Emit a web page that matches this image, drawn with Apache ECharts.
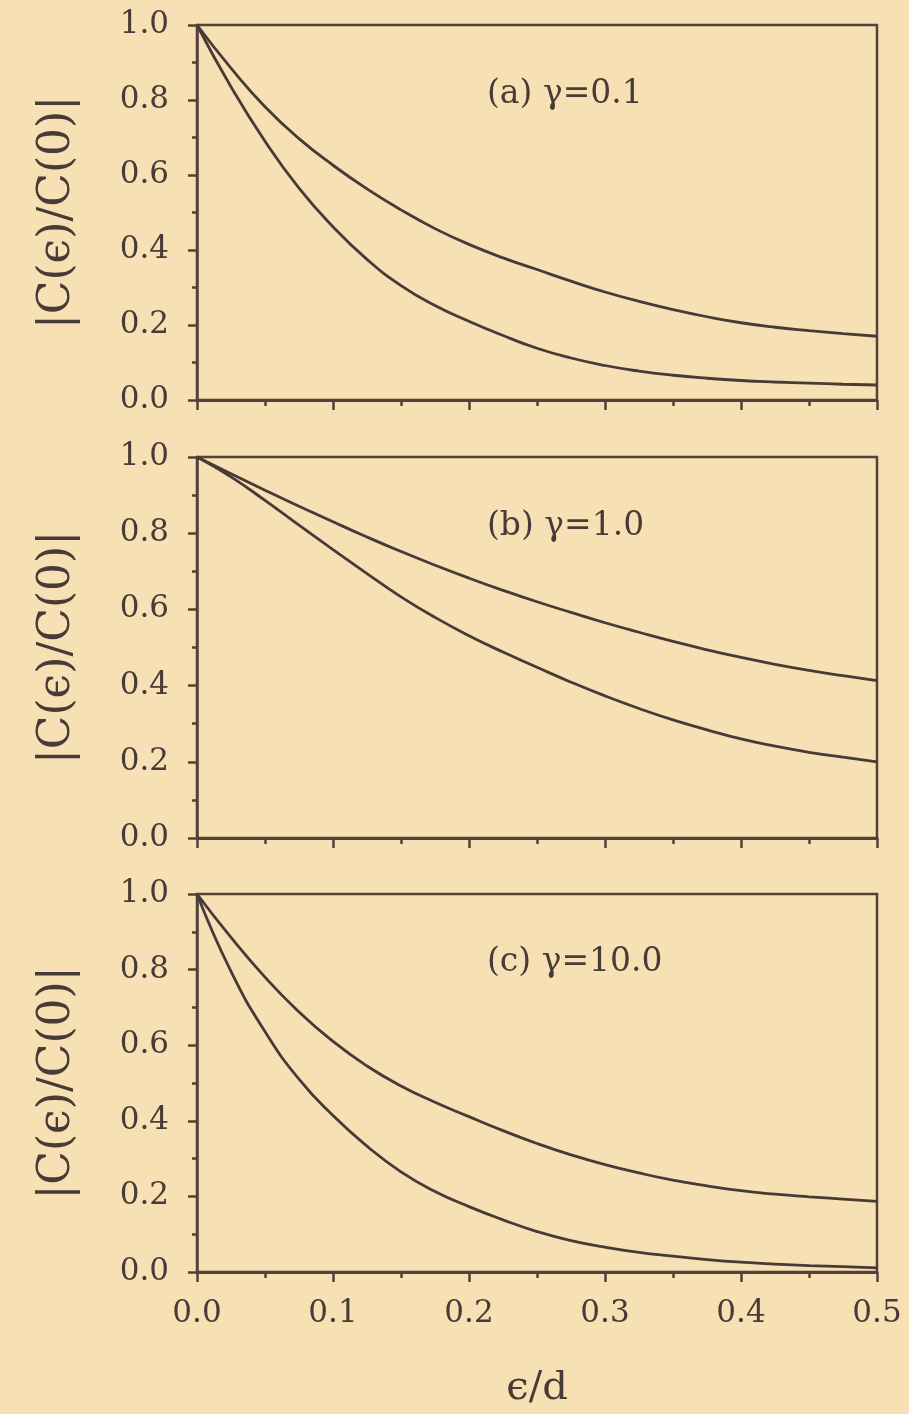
<!DOCTYPE html>
<html>
<head>
<meta charset="utf-8">
<script src="https://cdn.jsdelivr.net/npm/echarts@6/dist/echarts.min.js"></script>
<style>
  html, body { margin: 0; padding: 0; background: #f6e0b4; }
  #chart { width: 909px; height: 1414px; }
</style>
</head>
<body>
<div id="chart"></div>
<script>
// ---- data (x = epsilon/d) ----
const X = [0, 0.025, 0.05, 0.075, 0.1, 0.125, 0.15, 0.175, 0.2, 0.225, 0.25,
           0.275, 0.3, 0.325, 0.35, 0.375, 0.4, 0.425, 0.45, 0.475, 0.5];

// panel (a) gamma = 0.1
const aUpper = [1, 0.885, 0.782, 0.697, 0.626, 0.563, 0.507, 0.457, 0.415, 0.379, 0.348,
                0.317, 0.288, 0.263, 0.241, 0.222, 0.206, 0.194, 0.185, 0.177, 0.17];
const aLower = [1, 0.835, 0.69, 0.565, 0.462, 0.375, 0.305, 0.252, 0.21, 0.172, 0.138,
                0.112, 0.092, 0.077, 0.066, 0.058, 0.052, 0.048, 0.045, 0.042, 0.04];
// panel (b) gamma = 1.0
const bUpper = [1, 0.956, 0.913, 0.871, 0.83, 0.79, 0.752, 0.716, 0.682, 0.65, 0.62,
                0.592, 0.565, 0.54, 0.516, 0.494, 0.474, 0.456, 0.44, 0.426, 0.413];
const bLower = [1, 0.948, 0.886, 0.821, 0.757, 0.694, 0.633, 0.579, 0.531, 0.488, 0.448,
                0.409, 0.373, 0.34, 0.31, 0.284, 0.26, 0.241, 0.225, 0.212, 0.2];
// panel (c) gamma = 10.0
const cUpper = [1, 0.885, 0.78, 0.688, 0.61, 0.545, 0.492, 0.449, 0.411, 0.374, 0.34,
                0.31, 0.284, 0.262, 0.243, 0.228, 0.215, 0.206, 0.199, 0.193, 0.187];
const cLower = [1, 0.795, 0.636, 0.51, 0.414, 0.333, 0.265, 0.213, 0.173, 0.138, 0.107,
                0.083, 0.066, 0.052, 0.042, 0.033, 0.026, 0.021, 0.017, 0.014, 0.011];

const panelLabels = ['(a) \u03b3=0.1', '(b) \u03b3=1.0', '(c) \u03b3=10.0'];
const yTitle = '|C(\u03f5)/C(0)|';
const xTitle = '\u03f5/d';

// ---- styling ----
const INK = '#483b37';
const FRAME = '#53413a';
const FONT = '"DejaVu Serif", "Liberation Serif", serif';

const grids = [
  { left: 197, right: 32, top: 25, height: 375 },
  { left: 197, right: 32, top: 457, height: 381 },
  { left: 197, right: 32, top: 894, height: 378 }
].map(g => Object.assign(g, { show: true, borderColor: FRAME, borderWidth: 2.5, backgroundColor: 'transparent' }));

function xAxis(i) {
  const last = i === 2;
  return {
    type: 'value', gridIndex: i, min: 0, max: 0.5, interval: 0.1,
    axisLine: { show: true, lineStyle: { color: FRAME, width: 2.8 } },
    axisTick: { show: true, inside: false, length: 10, lineStyle: { color: FRAME, width: 2.5 } },
    minorTick: { show: true, splitNumber: 2, length: 6, lineStyle: { color: FRAME, width: 2.5 } },
    splitLine: { show: false },
    axisLabel: {
      show: last, margin: 26, color: INK, fontSize: 31, fontFamily: FONT,
      formatter: v => v.toFixed(1)
    },
    name: last ? xTitle : '', nameLocation: 'middle', nameGap: 97,
    nameTextStyle: { color: INK, fontSize: 40, fontFamily: FONT }
  };
}
function yAxis(i) {
  return {
    type: 'value', gridIndex: i, min: 0, max: 1, interval: 0.2,
    axisLine: { show: true, lineStyle: { color: FRAME, width: 2.5 } },
    axisTick: { show: true, inside: false, length: 9, lineStyle: { color: FRAME, width: 2.5 } },
    minorTick: { show: true, splitNumber: 2, length: 5, lineStyle: { color: FRAME, width: 2.5 } },
    splitLine: { show: false },
    axisLabel: { margin: 28, color: INK, fontSize: 31, fontFamily: FONT, formatter: v => v.toFixed(1) },
    name: yTitle, nameLocation: 'middle', nameGap: 117, nameRotate: 90,
    nameTextStyle: { color: INK, fontSize: 44, fontFamily: FONT }
  };
}

function line(i, ys) {
  return {
    type: 'line', xAxisIndex: i, yAxisIndex: i, smooth: 0.5,
    showSymbol: false, silent: true,
    lineStyle: { color: INK, width: 2.8 },
    data: X.map((x, k) => [x, ys[k]])
  };
}

const textTops = [78, 510, 946];
const option = {
  backgroundColor: '#f6e0b4',
  animation: false,
  grid: grids,
  xAxis: [0, 1, 2].map(xAxis),
  yAxis: [0, 1, 2].map(yAxis),
  series: [
    line(0, aUpper), line(0, aLower),
    line(1, bUpper), line(1, bLower),
    line(2, cUpper), line(2, cLower)
  ],
  graphic: panelLabels.map((t, i) => ({
    type: 'text', left: 487, top: textTops[i],
    style: { text: t, fill: INK, fontSize: 33, fontFamily: FONT }
  }))
};

const chart = echarts.init(document.getElementById('chart'));
chart.setOption(option);
</script>
</body>
</html>
